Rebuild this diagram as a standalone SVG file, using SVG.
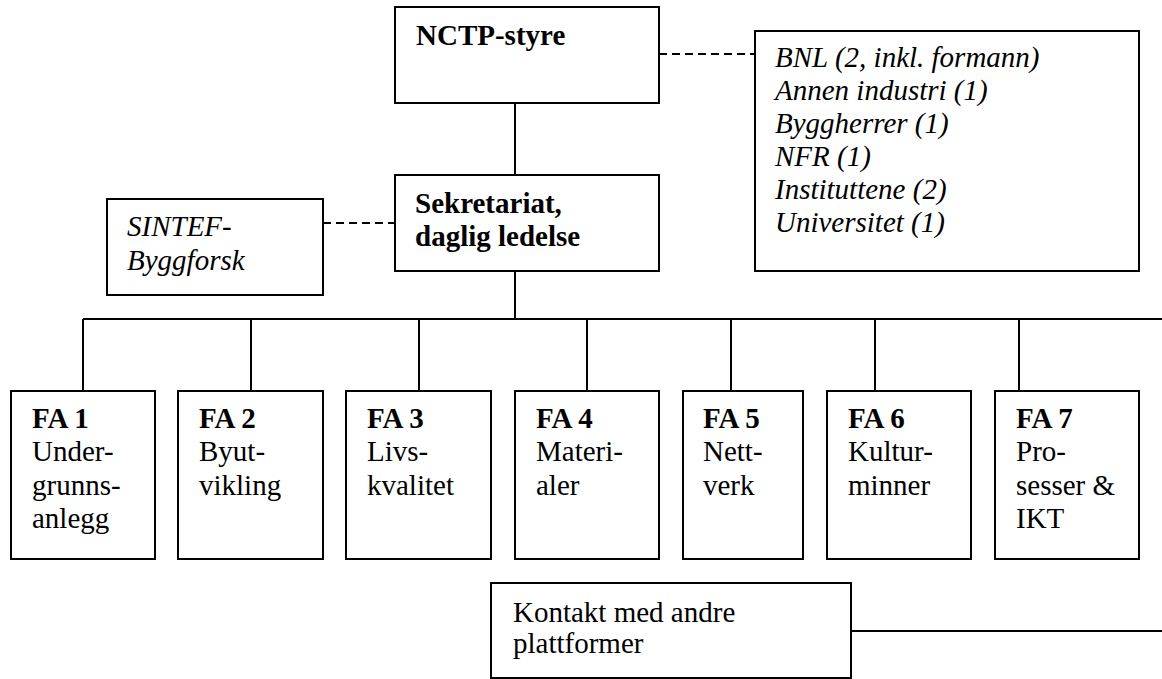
<svg xmlns="http://www.w3.org/2000/svg" width="1162" height="679" viewBox="0 0 1162 679">
<style>
.box{fill:#fff;stroke:#000;stroke-width:2}
.ln{stroke:#000;stroke-width:2;fill:none}
.dash{stroke:#000;stroke-width:2;fill:none;stroke-dasharray:8 5}
text{font-family:"Liberation Serif","Times New Roman",serif;font-size:29px;fill:#000}
.b{font-weight:bold}
.i{font-style:italic}
</style>
<rect width="1162" height="679" fill="#fff"/>
<g id="connectors">
<path class="ln" d="M515 103V175"/>
<path class="dash" d="M659 54H755"/>
<path class="dash" d="M323 223H395"/>
<path class="ln" d="M515 271V319"/>
<path class="ln" d="M83 319H1162"/>
<path class="ln" d="M83 319V391M251 319V391M419 319V391M587 319V391M731 319V391M875 319V391M1019 319V391"/>
<path class="ln" d="M851 631H1162"/>
</g>
<g id="nctp"><rect class="box" x="395" y="7" width="264" height="96"/><text class="b" x="416" y="45">NCTP-styre</text></g>
<g id="members"><rect class="box" x="755" y="31" width="384" height="240"/>
<text class="i" x="775" y="67">BNL (2, inkl. formann)</text>
<text class="i" x="775" y="100">Annen industri (1)</text>
<text class="i" x="775" y="133">Byggherrer (1)</text>
<text class="i" x="775" y="166">NFR (1)</text>
<text class="i" x="775" y="199">Instituttene (2)</text>
<text class="i" x="775" y="232">Universitet (1)</text></g>
<g id="sekretariat"><rect class="box" x="395" y="175" width="264" height="96"/><text class="b" x="415" y="213">Sekretariat,</text><text class="b" x="415" y="246">daglig ledelse</text></g>
<g id="sintef"><rect class="box" x="107" y="199" width="216" height="96"/><text class="i" x="127" y="236">SINTEF-</text><text class="i" x="127" y="270">Byggforsk</text></g>
<g id="fa1"><rect class="box" x="11" y="391" width="144" height="168"/><text x="32" y="428"><tspan class="b">FA 1</tspan><tspan x="32" dy="33.3">Under-</tspan><tspan x="32" dy="33.3">grunns-</tspan><tspan x="32" dy="33.3">anlegg</tspan></text></g>
<g id="fa2"><rect class="box" x="178" y="391" width="145" height="168"/><text x="199" y="428"><tspan class="b">FA 2</tspan><tspan x="199" dy="33.3">Byut-</tspan><tspan x="199" dy="33.3">vikling</tspan></text></g>
<g id="fa3"><rect class="box" x="346" y="391" width="145" height="168"/><text x="367" y="428"><tspan class="b">FA 3</tspan><tspan x="367" dy="33.3">Livs-</tspan><tspan x="367" dy="33.3">kvalitet</tspan></text></g>
<g id="fa4"><rect class="box" x="515" y="391" width="144" height="168"/><text x="536" y="428"><tspan class="b">FA 4</tspan><tspan x="536" dy="33.3">Materi-</tspan><tspan x="536" dy="33.3">aler</tspan></text></g>
<g id="fa5"><rect class="box" x="683" y="391" width="120" height="168"/><text x="703" y="428"><tspan class="b">FA 5</tspan><tspan x="703" dy="33.3">Nett-</tspan><tspan x="703" dy="33.3">verk</tspan></text></g>
<g id="fa6"><rect class="box" x="827" y="391" width="144" height="168"/><text x="848" y="428"><tspan class="b">FA 6</tspan><tspan x="848" dy="33.3">Kultur-</tspan><tspan x="848" dy="33.3">minner</tspan></text></g>
<g id="fa7"><rect class="box" x="995" y="391" width="144" height="168"/><text x="1016" y="428"><tspan class="b">FA 7</tspan><tspan x="1016" dy="33.3">Pro-</tspan><tspan x="1016" dy="33.3">sesser &amp;</tspan><tspan x="1016" dy="33.3">IKT</tspan></text></g>
<g id="kontakt"><rect class="box" x="491" y="583" width="360" height="95"/><text x="513" y="622">Kontakt med andre</text><text x="513" y="653">plattformer</text></g>
</svg>
